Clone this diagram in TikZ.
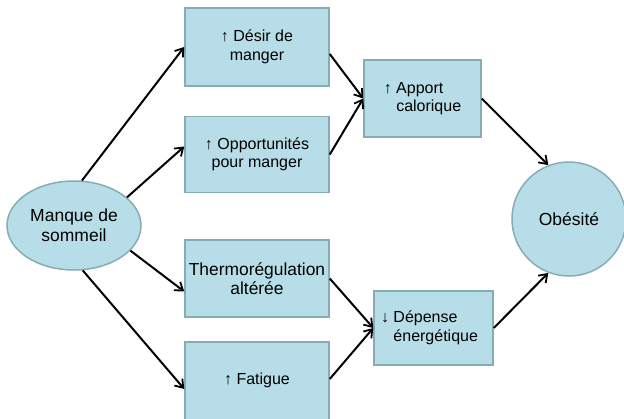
\documentclass[tikz,border=0pt]{standalone}
\usepackage{fontspec}
\setmainfont{Liberation Sans}
\usetikzlibrary{shapes.geometric,arrows.meta}
\definecolor{boxfill}{RGB}{183,222,232}
\definecolor{boxline}{RGB}{135,172,180}
\begin{document}
\begin{tikzpicture}[x=1pt,y=-1pt,
  base/.style={fill=boxfill,draw=boxline,line width=1.5pt,inner sep=0pt,text=black},
  boxnode/.style={base,rectangle,align=center,font=\fontsize{16}{18.5}\selectfont},
  bignode/.style={base,font=\fontsize{17.5}{20}\selectfont,align=center},
  conn/.style={-{Straight Barb[length=7.5pt,width=10.5pt,line width=1.8pt]},line width=2pt,black}
]
\useasboundingbox (0,0) rectangle (624,418);
\node[bignode,ellipse,minimum width=134pt,minimum height=89pt] (m) at (74,225.5) {Manque de\\sommeil};
\node[boxnode,minimum width=144pt,minimum height=78pt] (b1) at (257,47) {↑ Désir de\\manger};
\node[boxnode,minimum width=144pt,minimum height=76pt] (b2) at (257,154.5) {↑ Opportunités\\pour manger};
\node[boxnode,minimum width=144pt,minimum height=77pt,font=\fontsize{17.4}{19.5}\selectfont] (b3) at (257,278.5) {Thermorégulation\\altérée};
\node[boxnode,minimum width=144pt,minimum height=78pt] (b4) at (257,381) {\raisebox{4pt}{↑ Fatigue}};
\node[boxnode,align=left,minimum width=117pt,minimum height=77pt] (ap) at (422.5,98.5) {↑ Apport\\\hphantom{↑ }calorique};
\node[boxnode,align=left,minimum width=119pt,minimum height=74pt] (dp) at (433.5,328) {\hspace*{-4pt}↓ Dépense\\\hspace*{-4pt}\hphantom{↓ }énergétique\hspace*{4pt}};
\node[bignode,circle,minimum size=114pt] (ob) at (569,219) {Obésité};
\draw[conn] (m.80) -- (b1.west);
\draw[conn] (m.28) -- ([yshift=8pt]b2.west);
\draw[conn] (m.-24) -- ([yshift=-13pt]b3.west);
\draw[conn] (m.-79) -- ([yshift=-8pt]b4.west);
\draw[conn] ([yshift=-7pt]b1.east) -- (ap.west);
\draw[conn] (b2.east) -- (ap.west);
\draw[conn] (b3.east) -- (dp.west);
\draw[conn] ([yshift=2pt]b4.east) -- (dp.west);
\draw[conn] (ap.east) -- (ob.111);
\draw[conn] (dp.east) -- (ob.249);
\end{tikzpicture}
\end{document}
